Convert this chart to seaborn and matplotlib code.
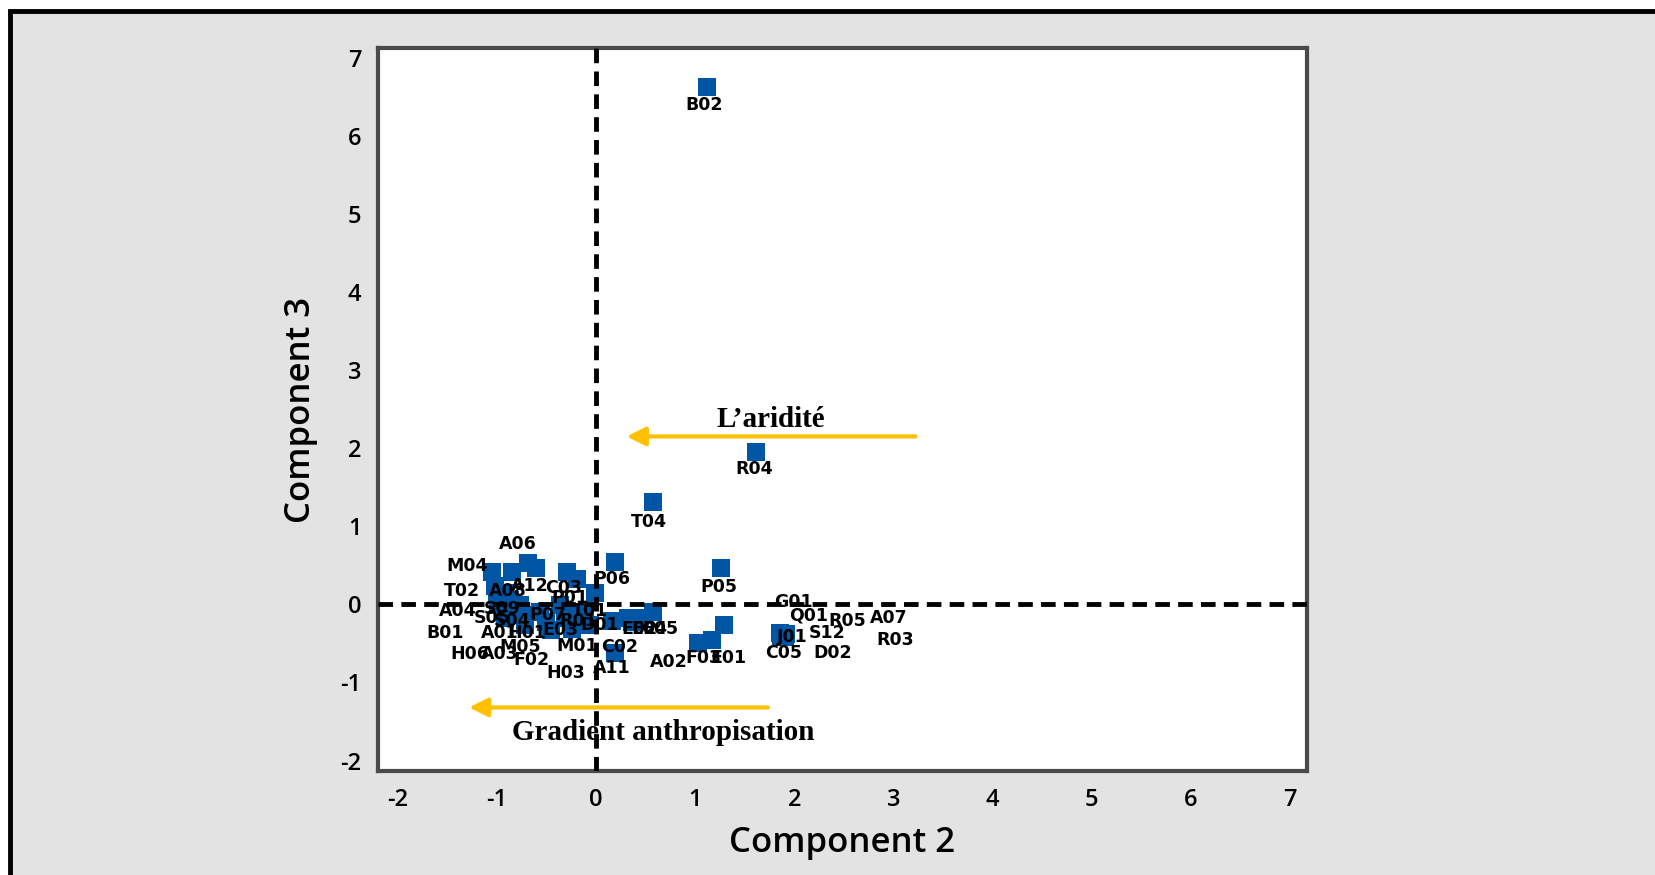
import numpy as np
import pandas as pd
import matplotlib
matplotlib.use("Agg")
import matplotlib.pyplot as plt
from matplotlib.patches import Rectangle
import seaborn as sns

# site codes with their scores on component 2 / component 3
sites = ["B02", "R04", "T04", "P06", "P05", "E01", "F03", "J01", "G01", "Q01",
         "R05", "A07", "S12", "R03", "C05", "D02", "A11", "A02", "C02", "E02",
         "E04", "E05", "T01", "M01", "H03", "C03", "P01", "P07", "R01", "D01",
         "E03", "A06", "M04", "T02", "A08", "A12", "A04", "S09", "S05", "S04",
         "B01", "A01", "H01", "M05", "H06", "A03", "F02"]
comp2 = [1.12, 1.61, 0.57, 0.19, 1.26, 1.29, 1.03, 1.88, 1.17, 1.85,
         1.90, 1.87, 1.89, 1.91, 1.86, 1.92, 0.19, 0.57, 0.32, 0.16,
         0.44, 0.36, -0.01, -0.06, -0.24, -0.29, -0.19, -0.36, -0.21, -0.11,
         -0.31, -0.69, -1.05, -1.02, -0.85, -0.61, -1.00, -0.92, -0.87, -0.77,
         -0.99, -0.75, -0.57, -0.51, -0.92, -0.72, -0.46]
comp3 = [6.62, 1.95, 1.31, 0.54, 0.46, -0.27, -0.50, -0.40, -0.46, -0.37,
         -0.41, -0.38, -0.42, -0.40, -0.41, -0.38, -0.62, -0.10, -0.17, -0.21,
         -0.18, -0.23, 0.14, -0.27, -0.31, 0.41, 0.33, -0.01, -0.10, -0.14,
         -0.18, 0.53, 0.41, 0.24, 0.41, 0.46, 0.12, 0.15, 0.05, -0.01,
         0.01, -0.14, -0.10, -0.23, -0.18, -0.27, -0.33]
# where each site label sits (labels were moved by hand in the original)
label_x = [1.09, 1.59, 0.53, 0.16, 1.24, 1.33, 1.08, 1.98, 1.99, 2.14,
           2.53, 2.95, 2.33, 3.02, 1.89, 2.39, 0.16, 0.73, 0.24, 0.44,
           0.54, 0.65, -0.06, -0.19, -0.31, -0.33, -0.26, -0.49, -0.18, 0.04,
           -0.36, -0.79, -1.30, -1.35, -0.89, -0.67, -1.40, -0.95, -1.05, -0.85,
           -1.52, -0.97, -0.70, -0.77, -1.27, -0.97, -0.65]
label_y = [6.40, 1.73, 1.06, 0.33, 0.22, -0.69, -0.69, -0.42, 0.03, -0.14,
           -0.21, -0.17, -0.37, -0.46, -0.62, -0.62, -0.82, -0.74, -0.55, -0.31,
           -0.31, -0.31, -0.08, -0.53, -0.88, 0.21, 0.08, -0.14, -0.21, -0.27,
           -0.33, 0.77, 0.49, 0.17, 0.17, 0.24, -0.08, -0.06, -0.17, -0.21,
           -0.37, -0.37, -0.37, -0.54, -0.64, -0.63, -0.71]

xticks = [-2, -1, 0, 1, 2, 3, 4, 5, 6, 7]
yticks = [-2, -1, 0, 1, 2, 3, 4, 5, 6, 7]

df = pd.DataFrame({"Component 2": comp2, "Component 3": comp3, "site": sites})

sns.set_style("white")
plt.rcParams["font.family"] = ["Open Sans", "DejaVu Sans"]
plt.rcParams["text.color"] = "black"
plt.rcParams["axes.labelcolor"] = "black"
plt.rcParams["xtick.color"] = "black"
plt.rcParams["ytick.color"] = "black"

fig = plt.figure(figsize=(16.55, 8.75), dpi=100)
fig.patch.set_facecolor("white")
fig.add_artist(Rectangle((9.5 / 1655, -0.1), 1.2, 1.1 - 11 / 875, transform=fig.transFigure,
                         facecolor="#e3e3e3", edgecolor="black", lw=3.5, zorder=0))

ax = fig.add_axes([0.2284, 0.1183, 0.5613, 0.8274])
ax.set_facecolor("white")

sns.scatterplot(data=df, x="Component 2", y="Component 3", marker="s", s=175,
                color="#0055a4", edgecolor="#0055a4", linewidth=0, ax=ax, zorder=3)

ax.axhline(0, color="black", lw=3.5, ls=(0, (3, 1.7)), zorder=4)
ax.axvline(0, color="black", lw=3.5, ls=(0, (3, 1.7)), zorder=4)

for name, lx, ly in zip(sites, label_x, label_y):
    ax.text(lx, ly, name, ha="center", va="center", fontsize=12.5, fontweight="bold",
            family="DejaVu Sans", color="black", zorder=5)

arrow_col = "#ffc000"
ax.annotate("", xy=(0.28, 2.15), xytext=(3.25, 2.15),
            arrowprops=dict(arrowstyle="-|>", color=arrow_col, lw=3, mutation_scale=28), zorder=6)
ax.text(1.76, 2.37, "L\u2019aridit\u00e9", ha="center", va="center", fontsize=21,
        fontweight="bold", family="Liberation Serif", zorder=6)
ax.annotate("", xy=(-1.31, -1.32), xytext=(1.76, -1.32),
            arrowprops=dict(arrowstyle="-|>", color=arrow_col, lw=3, mutation_scale=28), zorder=6)
ax.text(0.68, -1.64, "Gradient anthropisation", ha="center", va="center", fontsize=21,
        fontweight="bold", family="Liberation Serif", zorder=6)

ax.set_xlim(-2.2, 7.17)
ax.set_ylim(-2.14, 7.13)
ax.set_xticks(xticks)
ax.set_yticks(yticks)
ax.set_xticklabels([str(t) for t in xticks])
ax.set_yticklabels([str(t) for t in yticks])
ax.tick_params(direction="out", length=6, width=1.3, color="#999999",
               labelsize=17, pad=6, labelcolor="black")
for lab in ax.get_xticklabels() + ax.get_yticklabels():
    lab.set_fontweight("semibold")
ax.set_xlabel("Component 2", fontsize=25, labelpad=10, fontweight="semibold")
ax.set_ylabel("Component 3", fontsize=25, labelpad=16, fontweight="semibold")

for sp in ax.spines.values():
    sp.set_color("#4a4a4a")
    sp.set_linewidth(3)
    sp.set_visible(True)

fig.savefig("out.png", dpi=100)
